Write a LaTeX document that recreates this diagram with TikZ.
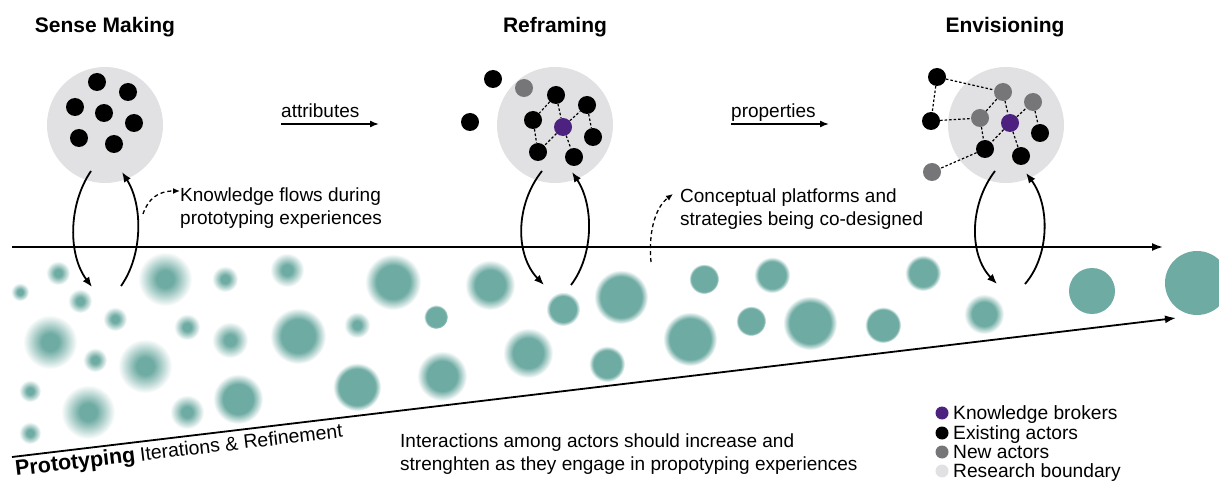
\documentclass[tikz,border=0pt]{standalone}
\usepackage{fontspec}
\setmainfont{Liberation Sans}
\usetikzlibrary{arrows.meta}
\definecolor{tealb}{RGB}{110,171,163}
\definecolor{bgray}{RGB}{225,225,227}
\definecolor{agray}{RGB}{118,118,120}
\definecolor{kpurple}{RGB}{76,33,128}
\pgfdeclareradialshading{blobA}{\pgfpoint{0bp}{0bp}}{color(0bp)=(tealb); color(8bp)=(tealb); color(25bp)=(white); color(50bp)=(white)}
\pgfdeclareradialshading{blobB}{\pgfpoint{0bp}{0bp}}{color(0bp)=(tealb); color(12bp)=(tealb); color(25bp)=(white); color(50bp)=(white)}
\pgfdeclareradialshading{blobC}{\pgfpoint{0bp}{0bp}}{color(0bp)=(tealb); color(15bp)=(tealb); color(25bp)=(white); color(50bp)=(white)}
\pgfdeclareradialshading{blobD}{\pgfpoint{0bp}{0bp}}{color(0bp)=(tealb); color(19bp)=(tealb); color(25bp)=(white); color(50bp)=(white)}
\pgfdeclareradialshading{blobE}{\pgfpoint{0bp}{0bp}}{color(0bp)=(tealb); color(21.5bp)=(tealb); color(25bp)=(white); color(50bp)=(white)}
\newcommand\tblob[4]{\shade[shading=#4] (#1,#2) circle (#3pt);}
\newcommand\sblob[3]{\fill[tealb] (#1,#2) circle (#3pt);}
\tikzset{
  boundary/.style={circle, fill=bgray, minimum size=116pt, inner sep=0pt},
  actor/.style={circle, fill=black, minimum size=18pt, inner sep=0pt},
  newactor/.style={actor, fill=agray},
  broker/.style={actor, fill=kpurple},
  link/.style={dash pattern=on 2.5pt off 2pt, line width=1.2pt},
  flow/.style={line width=1.8pt, -{Latex[length=10pt,width=8pt]}},
  axis/.style={line width=1.8pt, -{Latex[length=11pt,width=8pt]}},
  dflow/.style={dash pattern=on 4pt off 3pt, line width=1.3pt, -{Latex[length=7pt,width=6pt]}},
  title/.style={font=\fontsize{21}{25}\selectfont\bfseries, anchor=base, inner sep=0pt},
  body/.style={font=\fontsize{19}{23}\selectfont, inner sep=0pt, align=left},
  legtext/.style={font=\fontsize{19.2}{20}\selectfont, inner sep=0pt, anchor=base west},
  legdot/.style={circle, minimum size=13pt, inner sep=0pt},
}
\begin{document}
\begin{tikzpicture}[x=1pt,y=-1pt]
\useasboundingbox (0,0) rectangle (1219,481);
\fill[white] (0,0) rectangle (1219,481);

% blobs
\tblob{20}{292}{9}{blobA}
\tblob{58}{273}{12}{blobA}
\tblob{80}{301}{12}{blobA}
\tblob{115}{319}{12}{blobA}
\tblob{50}{342}{27}{blobA}
\tblob{95}{360}{12}{blobA}
\tblob{145}{366}{27}{blobA}
\tblob{30}{391}{11}{blobA}
\tblob{88}{412}{27}{blobA}
\tblob{30}{433}{11}{blobA}
\tblob{165}{279}{27}{blobA}
\tblob{225}{279}{13}{blobA}
\tblob{287}{270}{17}{blobA}
\tblob{187}{327}{13}{blobA}
\tblob{230}{340}{18}{blobA}
\tblob{187}{412}{17}{blobA}
\tblob{238}{399}{25}{blobC}
\tblob{298}{336}{28}{blobC}
\tblob{357}{325}{13}{blobA}
\tblob{357}{387}{24}{blobD}
\tblob{393}{282}{28}{blobC}
\tblob{490}{285}{25}{blobC}
\tblob{436}{317}{12}{blobE}
\tblob{528}{353}{25}{blobC}
\tblob{442}{376}{25}{blobC}
\tblob{563}{309}{17}{blobD}
\tblob{621}{297}{27}{blobD}
\tblob{607}{364}{18}{blobD}
\tblob{704}{279}{15}{blobE}
\tblob{772}{275}{18}{blobD}
\tblob{690}{339}{27}{blobD}
\tblob{751}{321}{15}{blobE}
\tblob{810}{323}{27}{blobD}
\tblob{923}{273}{18}{blobD}
\tblob{883}{325}{18}{blobE}
\tblob{984}{314}{20}{blobC}
\sblob{1092}{291}{23}
\sblob{1197}{283}{32}

% titles
\node[title] (t1) at (105,33) {Sense Making};
\node[title] (t2) at (555,33) {Reframing};
\node[title] (t3) at (1005,33) {Envisioning};

% boundaries
\node[boundary] (b1) at (105,125) {};
\node[boundary] (b2) at (555,125) {};
\node[boundary] (b3) at (1006,125) {};

% Sense making actors
\node[actor] (s1) at (97,82) {};
\node[actor] (s2) at (128,92) {};
\node[actor] (s3) at (75,107) {};
\node[actor] (s4) at (104,113) {};
\node[actor] (s5) at (134,123) {};
\node[actor] (s6) at (79,138) {};
\node[actor] (s7) at (114,144) {};

% Reframing actors
\node[actor] (r1) at (493,79) {};
\node[newactor] (r2) at (524,88) {};
\node[actor] (r3) at (470,122) {};
\node[actor] (r4) at (556,95) {};
\node[actor] (r5) at (587,105) {};
\node[actor] (r6) at (533,120) {};
\node[broker] (r7) at (563,127) {};
\node[actor] (r8) at (593,137) {};
\node[actor] (r9) at (538,152) {};
\node[actor] (r10) at (574,157) {};
\draw[link] (r4) -- (r6);
\draw[link] (r4) -- (r7);
\draw[link] (r6) -- (r9);
\draw[link] (r7) -- (r9);
\draw[link] (r7) -- (r10);
\draw[link] (r7) -- (r5);
\draw[link] (r5) -- (r8);

% Envisioning actors
\node[actor] (e1) at (937,77) {};
\node[newactor] (e2) at (1003,92) {};
\node[newactor] (e3) at (1033,102) {};
\node[actor] (e4) at (931,121) {};
\node[newactor] (e5) at (980,118) {};
\node[broker] (e6) at (1010,123) {};
\node[actor] (e7) at (1040,133) {};
\node[actor] (e8) at (985,149) {};
\node[actor] (e9) at (1021,156) {};
\node[newactor] (e10) at (932,172) {};
\draw[link] (e1) -- (e2);
\draw[link] (e1) -- (e4);
\draw[link] (e4) -- (e5);
\draw[link] (e5) -- (e2);
\draw[link] (e2) -- (e6);
\draw[link] (e6) -- (e3);
\draw[link] (e3) -- (e7);
\draw[link] (e5) -- (e8);
\draw[link] (e6) -- (e8);
\draw[link] (e6) -- (e9);
\draw[link] (e8) -- (e10);

% attributes / properties
\node[body, anchor=base west] (at) at (281,118) {attributes};
\coordinate (a0) at (281,124);
\coordinate (a1) at (379,124);
\draw[line width=1.6pt, -{Latex[length=9pt,width=7pt]}] (a0) -- (a1);
\node[body, anchor=base west] (pr) at (731,118) {properties};
\coordinate (p0) at (731,124);
\coordinate (p1) at (829,124);
\draw[line width=1.6pt, -{Latex[length=9pt,width=7pt]}] (p0) -- (p1);

% main axes
\coordinate (h0) at (12,247);
\coordinate (h1) at (1163,247);
\draw[axis] (h0) -- (h1);
\coordinate (d0) at (12,457);
\coordinate (d1) at (1176,318);
\draw[axis] (d0) -- (d1);

% loops
\coordinate (l1a) at (91,171); \coordinate (l1b) at (92,287);
\coordinate (l1c) at (121,286); \coordinate (l1d) at (122,172);
\draw[flow] (l1a) .. controls (68,205) and (68,255) .. (l1b);
\draw[flow] (l1c) .. controls (143,255) and (143,205) .. (l1d);
\coordinate (l2a) at (542,171); \coordinate (l2b) at (544,285);
\coordinate (l2c) at (571,285); \coordinate (l2d) at (572,172);
\draw[flow] (l2a) .. controls (515,205) and (515,255) .. (l2b);
\draw[flow] (l2c) .. controls (594,255) and (594,205) .. (l2d);
\coordinate (l3a) at (995,171); \coordinate (l3b) at (997,284);
\coordinate (l3c) at (1025,284); \coordinate (l3d) at (1026,173);
\draw[flow] (l3a) .. controls (969,205) and (969,255) .. (l3b);
\draw[flow] (l3c) .. controls (1050,255) and (1050,205) .. (l3d);

% annotations
\node[body, anchor=west] (kf) at (180,208.5) {Knowledge flows during\\prototyping experiences};
\coordinate (k0) at (143,214);
\draw[dflow] (k0) .. controls (148,199) and (158,191) .. (kf.west |- 0,191);
\node[body, anchor=west] (cp) at (680,209.5) {Conceptual platforms and\\strategies being co-designed};
\coordinate (c0) at (651,262);
\coordinate (c1) at (673,194);
\draw[dflow] (c0) .. controls (648,228) and (657,206) .. (c1);

\node[body, anchor=west] (ia) at (400,454.5) {Interactions among actors should increase and\\strenghten as they engage in propotyping experiences};

\node[inner sep=0pt, anchor=base west, rotate=6.75] (pt) at (16,476)
  {{\fontsize{21.5}{24}\selectfont\bfseries Prototyping}\hspace{5pt}{\fontsize{19.5}{22}\selectfont Iterations \& Refinement}};

% legend
\node[legdot, fill=kpurple] (g1) at (942,413) {};
\node[legdot, fill=black] (g2) at (942,433) {};
\node[legdot, fill=agray] (g3) at (942,452) {};
\node[legdot, fill=bgray] (g4) at (942,471) {};
\node[legtext] (n1) at (953,419) {Knowledge brokers};
\node[legtext] (n2) at (953,439) {Existing actors};
\node[legtext] (n3) at (953,458) {New actors};
\node[legtext] (n4) at (953,477) {Research boundary};
\end{tikzpicture}
\end{document}
